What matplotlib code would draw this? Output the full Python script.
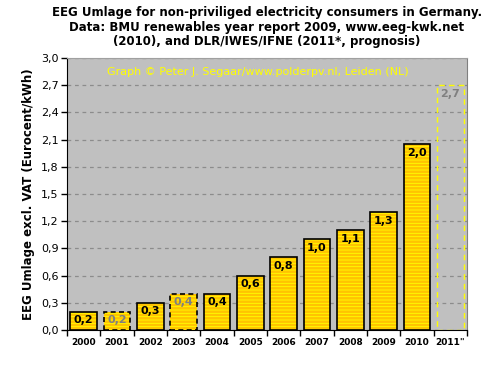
import matplotlib
matplotlib.use("Agg")
import matplotlib.pyplot as plt
import numpy as np

years = ["2000", "2001", "2002", "2003", "2004", "2005", "2006", "2007", "2008", "2009", "2010", "2011*"]
values = [0.20, 0.20, 0.30, 0.40, 0.40, 0.60, 0.80, 1.00, 1.10, 1.30, 2.05, 2.70]
labels = ["0,2", "0,2", "0,3", "0,4", "0,4", "0,6", "0,8", "1,0", "1,1", "1,3", "2,0", "2,7"]
style = ["solid", "dashed", "solid", "dashed", "solid", "solid", "solid", "solid", "solid", "solid", "solid", "prognosis"]
yticks = [0.0, 0.3, 0.6, 0.9, 1.2, 1.5, 1.8, 2.1, 2.4, 2.7, 3.0]

plt.rcParams['font.family'] = ['DejaVu Sans']
plt.rcParams['hatch.linewidth'] = 1.8

fig = plt.figure(figsize=(5.01, 3.71), dpi=100)
ax = fig.add_axes([67/501, 1 - 330/371, (467-67)/501, (330-58)/371])
ax.set_facecolor('#C0C0C0')

x = np.arange(len(years))
w = 0.8
ax.set_xlim(-0.5, len(years) - 0.5)
ax.set_ylim(0, 3.0)
ax.set_axisbelow(True)
ax.yaxis.grid(True, color='#8C8C8C', linestyle=(0, (3, 3)), linewidth=0.9)

for i, (v, s) in enumerate(zip(values, style)):
    if s == "prognosis":
        ax.bar(x[i], v, w, facecolor='none', edgecolor='#FFFF00', linestyle=(0, (4, 3)), linewidth=1, zorder=3)
        ax.text(x[i], v - 0.04, labels[i], ha='center', va='top', fontsize=8, fontweight='bold', color='#808080', zorder=5)
        continue
    ax.bar(x[i], v, w, facecolor='#FFFF00', edgecolor='#FFC400', hatch='-----', linewidth=0, zorder=3)
    ls = '-' if s == "solid" else (0, (3, 2))
    ax.bar(x[i], v, w, facecolor='none', edgecolor='black', linestyle=ls, linewidth=1.2, zorder=4)
    col = 'black' if s == "solid" else '#808080'
    ax.text(x[i], v - 0.04, labels[i], ha='center', va='top', fontsize=8, fontweight='bold', color=col, zorder=5)

ax.set_yticks(yticks)
ax.set_yticklabels([f"{t:.1f}".replace('.', ',') for t in yticks], fontsize=8)
ax.set_xticks(np.arange(len(years) + 1) - 0.5, minor=False)
ax.set_xticklabels([])
ax.set_xticks(x, minor=True)
ax.set_xticklabels(["2011\"" if y == "2011*" else y for y in years], minor=True, fontsize=6.5, fontweight='bold')
ax.tick_params(axis='x', which='minor', length=0, pad=6)
ax.tick_params(axis='x', which='major', length=4, direction='out', width=1)
ax.tick_params(axis='y', length=4, width=1, pad=2)

ax.spines['left'].set_color('black')
ax.spines['bottom'].set_color('black')
ax.spines['top'].set_color('#A0A0A0')
ax.spines['right'].set_color('#808080')

ax.set_ylabel("EEG Umlage excl. VAT (Eurocent/kWh)", fontsize=8.5, fontweight='bold', labelpad=4)

fig.text(0.533, 1 - 6/371,
         "EEG Umlage for non-priviliged electricity consumers in Germany.\n"
         "Data: BMU renewables year report 2009, www.eeg-kwk.net\n"
         "(2010), and DLR/IWES/IFNE (2011*, prognosis)",
         ha='center', va='top', fontsize=8.5, fontweight='bold', linespacing=1.15)

ax.text(0.478, 0.95, "Graph \u00a9 Peter J. Segaar/www.polderpv.nl, Leiden (NL)",
        transform=ax.transAxes, ha='center', va='center', fontsize=8, color='#FFFF00', zorder=6)

fig.savefig("out.png", dpi=100)
